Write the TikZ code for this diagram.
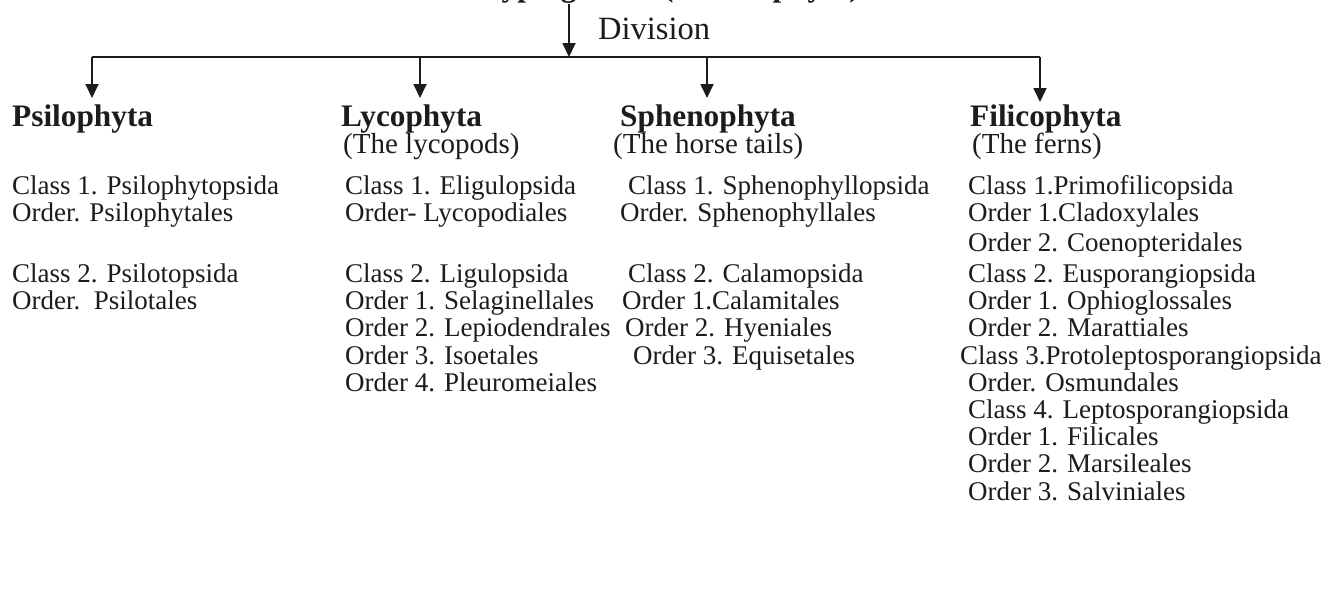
\documentclass[tikz,border=0pt]{standalone}
\usepackage{fontspec}
\setmainfont{Liberation Serif}
\usetikzlibrary{arrows.meta}
\definecolor{ink}{HTML}{1C1C1C}
\begin{document}
\begin{tikzpicture}[x=1pt,y=-1pt,
  item/.style={anchor=base west, inner sep=0pt, text=ink, font=\fontsize{27}{30}\selectfont},
  subt/.style={anchor=base west, inner sep=0pt, text=ink, font=\fontsize{29}{32}\selectfont},
  hdr/.style={anchor=base west, inner sep=0pt, text=ink, font=\fontsize{31.3}{34}\selectfont\bfseries},
  ttl/.style={anchor=base west, inner sep=0pt, text=ink, font=\fontsize{31.3}{34}\selectfont\bfseries},
  divl/.style={anchor=base west, inner sep=0pt, text=ink, font=\fontsize{32.5}{35}\selectfont},
  conn/.style={draw=ink, line width=1.8pt},
  arr/.style={conn, -{Triangle[length=14pt,width=13pt]}}
]
\useasboundingbox[fill=white] (0,0) rectangle (1330,589);

% title, cut off at the top edge as in the reference
\begin{scope}
  \clip (0,0) rectangle (1330,589);
  \node[ttl] (title1) at (465,-3) {Cryptogams};
  \node[ttl] (title2) at (663,-3) {(Pteridophyta)};
\end{scope}

\node[divl] (division) at (598,39) {Division};

% connector coordinates
\coordinate (top) at (569,4);
\coordinate (hub) at (569,57);
\coordinate (jL) at (92,57);
\coordinate (jLy) at (420,57);
\coordinate (jS) at (707,57);
\coordinate (jR) at (1040,57);
\coordinate (tP) at (92,98);
\coordinate (tL) at (420,98);
\coordinate (tS) at (707,98);
\coordinate (tF) at (1040,102);

\draw[arr] (top) -- (hub);
\draw[conn] (jL) -- (jR);
\draw[arr] (jL) -- (tP);
\draw[arr] (jLy) -- (tL);
\draw[arr] (jS) -- (tS);
\draw[arr] (jR) -- (tF);

% headers
\node[hdr] (psilo) at (12,126) {Psilophyta};
\node[hdr] (lyco) at (341,126) {Lycophyta};
\node[hdr] (spheno) at (620,126) {Sphenophyta};
\node[hdr] (fili) at (970,126) {Filicophyta};
\node[subt] (lycosub) at (343,153) {(The lycopods)};
\node[subt] (sphenosub) at (613,153) {(The horse tails)};
\node[subt] (filisub) at (972,153) {(The ferns)};

% column 1
\node[item] (p1) at (12,194) {Class 1. Psilophytopsida};
\node[item] (p2) at (12,221) {Order. Psilophytales};
\node[item] (p3) at (12,282) {Class 2. Psilotopsida};
\node[item] (p4) at (12,309) {Order.\ \ Psilotales};

% column 2
\node[item] (l1) at (345,194) {Class 1. Eligulopsida};
\node[item] (l2) at (345,221) {Order- Lycopodiales};
\node[item] (l3) at (345,282) {Class 2. Ligulopsida};
\node[item] (l4) at (345,309) {Order 1. Selaginellales};
\node[item] (l5) at (345,336) {Order 2. Lepiodendrales};
\node[item] (l6) at (345,364) {Order 3. Isoetales};
\node[item] (l7) at (345,391) {Order 4. Pleuromeiales};

% column 3
\node[item] (s1) at (628,194) {Class 1. Sphenophyllopsida};
\node[item] (s2) at (620,221) {Order. Sphenophyllales};
\node[item] (s3) at (628,282) {Class 2. Calamopsida};
\node[item] (s4) at (622,309) {Order 1.Calamitales};
\node[item] (s5) at (625,336) {Order 2. Hyeniales};
\node[item] (s6) at (633,364) {Order 3. Equisetales};

% column 4
\node[item] (f1) at (968,194) {Class 1.Primofilicopsida};
\node[item] (f2) at (968,221) {Order 1.Cladoxylales};
\node[item] (f3) at (968,251) {Order 2. Coenopteridales};
\node[item] (f4) at (968,282) {Class 2. Eusporangiopsida};
\node[item] (f5) at (968,309) {Order 1. Ophioglossales};
\node[item] (f6) at (968,336) {Order 2. Marattiales};
\node[item] (f7) at (960,364) {Class 3.Protoleptosporangiopsida};
\node[item] (f8) at (968,391) {Order. Osmundales};
\node[item] (f9) at (968,418) {Class 4. Leptosporangiopsida};
\node[item] (f10) at (968,445) {Order 1. Filicales};
\node[item] (f11) at (968,472) {Order 2. Marsileales};
\node[item] (f12) at (968,500) {Order 3. Salviniales};
\end{tikzpicture}
\end{document}
